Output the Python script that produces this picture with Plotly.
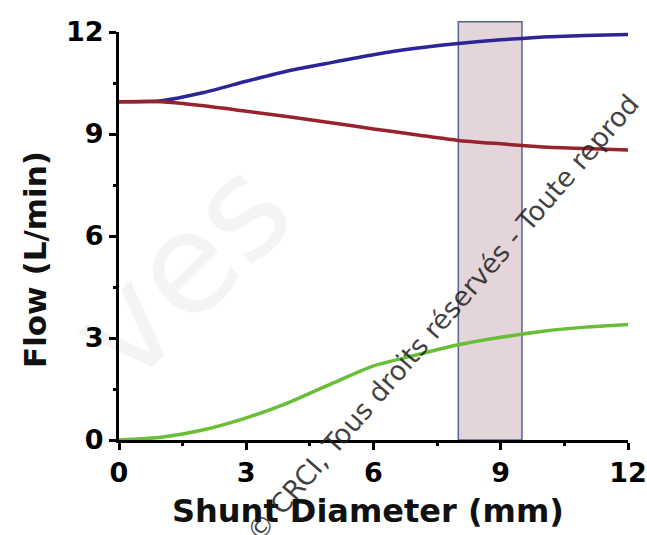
import plotly.graph_objects as go

# ---- data ----
shunt_diameter_mm = [0, 1, 2, 3, 4, 5, 6, 7, 8, 9, 10, 11, 12]
flow_blue = [9.95, 9.98, 10.22, 10.55, 10.86, 11.10, 11.33, 11.52, 11.66, 11.77, 11.85, 11.90, 11.93]
flow_red = [9.95, 9.95, 9.83, 9.67, 9.51, 9.33, 9.15, 8.98, 8.81, 8.71, 8.62, 8.57, 8.53]
flow_green = [0.0, 0.08, 0.30, 0.65, 1.10, 1.65, 2.18, 2.50, 2.80, 3.02, 3.20, 3.32, 3.40]

x_ticks = [0, 3, 6, 9, 12]
y_ticks = [0, 3, 6, 9, 12]
x_range = [0, 12]
y_range = [0, 12]

band_start = 8.0
band_end = 9.5
band_top = 12.3

x_title = "Shunt Diameter (mm)"
y_title = "Flow (L/min)"
watermark = "© CRCI, Tous droits réservés - Toute reprod"

FONT = "DejaVu Sans"

fig = go.Figure()

fig.add_trace(go.Scatter(x=shunt_diameter_mm, y=flow_green, mode="lines",
                         line=dict(color="rgb(105,190,55)", width=3.5, shape="spline", smoothing=0.6),
                         showlegend=False))
fig.add_trace(go.Scatter(x=shunt_diameter_mm, y=flow_blue, mode="lines",
                         line=dict(color="rgb(42,38,150)", width=3.5, shape="spline", smoothing=0.6),
                         showlegend=False))
fig.add_trace(go.Scatter(x=shunt_diameter_mm, y=flow_red, mode="lines",
                         line=dict(color="rgb(150,35,45)", width=3.5, shape="spline", smoothing=0.6),
                         showlegend=False))

# shaded band (x in data units, y in paper units derived from data range)
fig.add_shape(type="rect", xref="x", yref="paper",
              x0=band_start, x1=band_end,
              y0=0, y1=(band_top - y_range[0]) / (y_range[1] - y_range[0]),
              fillcolor="rgb(227,213,218)", line=dict(color="rgb(85,100,150)", width=1.5),
              layer="below")

axis_common = dict(
    showline=True, linecolor="black", linewidth=3,
    ticks="outside", ticklen=7, tickwidth=3, tickcolor="black",
    showgrid=False, zeroline=False, automargin=False,
    tickfont=dict(family=FONT, size=27, color="black", weight="bold"),
)

fig.update_xaxes(range=x_range, tickvals=x_ticks, ticktext=[str(v) for v in x_ticks],
                 minor=dict(ticks="outside", ticklen=3, tickwidth=3, tickcolor="black", dtick=1.5, tick0=0),
                 **axis_common)
fig.update_yaxes(range=y_range, tickvals=y_ticks, ticktext=[str(v) for v in y_ticks],
                 minor=dict(ticks="outside", ticklen=3, tickwidth=3, tickcolor="black", dtick=1.5, tick0=0),
                 **axis_common)

L, R, T, B = 119, 19, 32, 95
W, H = 647, 535
pw, ph = W - L - R, H - T - B

def px_to_paper(px, py):
    return (px - L) / pw, (H - B - py) / ph

# axis titles
xt = px_to_paper(368, 511)
yt = px_to_paper(35, 260)
fig.add_annotation(text=x_title, xref="paper", yref="paper", x=xt[0], y=xt[1],
                   showarrow=False, xanchor="center", yanchor="middle",
                   font=dict(family=FONT, size=32, color="#111111", weight="bold"))
fig.add_annotation(text=y_title, xref="paper", yref="paper", x=yt[0], y=yt[1],
                   showarrow=False, xanchor="center", yanchor="middle", textangle=-90,
                   font=dict(family=FONT, size=31, color="#111111", weight="bold"))

# faint background watermark
wv = px_to_paper(180, 270)
fig.add_annotation(text="ves", xref="paper", yref="paper", x=wv[0], y=wv[1],
                   showarrow=False, xanchor="center", yanchor="middle", textangle=-45,
                   font=dict(family=FONT, size=140, color="rgba(0,0,0,0.045)"))

# diagonal copyright watermark
wm = px_to_paper(442, 318)
fig.add_annotation(text=watermark, xref="paper", yref="paper", x=wm[0], y=wm[1],
                   showarrow=False, xanchor="center", yanchor="middle", textangle=-49,
                   font=dict(family=FONT, size=27, color="rgba(30,30,30,0.85)"))

fig.update_layout(
    width=W, height=H,
    margin=dict(l=L, r=R, t=T, b=B),
    paper_bgcolor="white", plot_bgcolor="white",
    showlegend=False,
)

fig.write_html("out.html", config={"displayModeBar": False},
               post_script="document.body.style.margin='0';document.body.style.overflow='hidden';")
